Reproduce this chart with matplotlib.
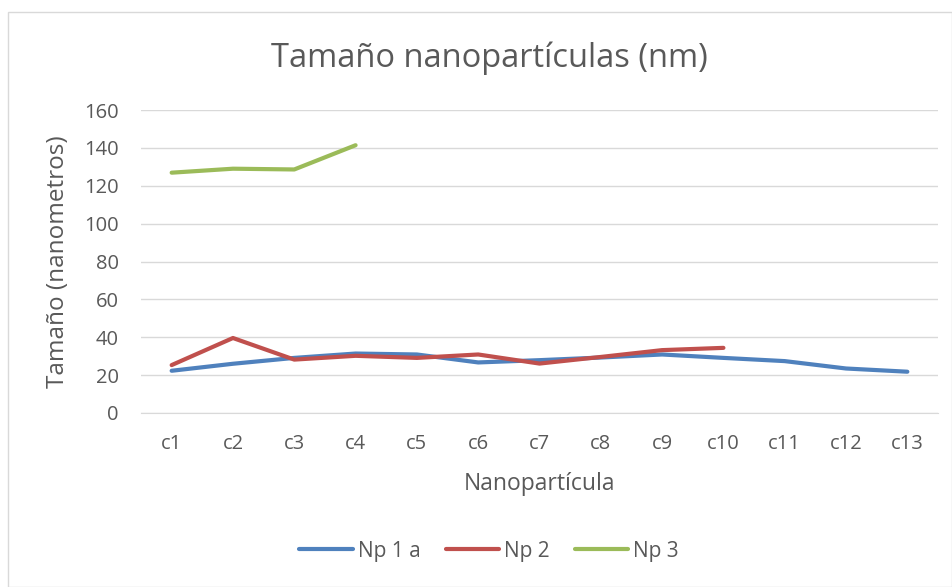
import matplotlib.pyplot as plt
from matplotlib.patches import Rectangle

categories = ['c1', 'c2', 'c3', 'c4', 'c5', 'c6', 'c7', 'c8', 'c9', 'c10', 'c11', 'c12', 'c13']
np1a = [22.3, 26.0, 29.1, 31.4, 30.9, 26.7, 27.9, 29.3, 30.9, 29.1, 27.4, 23.5, 21.8]
np2 = [25.3, 39.6, 28.2, 30.2, 29.1, 30.9, 26.1, 29.6, 33.2, 34.4]
np3 = [126.9, 129.0, 128.6, 141.4]
yticks = [0, 20, 40, 60, 80, 100, 120, 140, 160]

plt.rcParams['font.family'] = ['Open Sans', 'DejaVu Sans']
text_col = '#595959'

fig = plt.figure(figsize=(9.52, 5.87), dpi=100)
ax = fig.add_axes([141 / 952, 174 / 587, 797 / 952, 303 / 587])

x = list(range(len(categories)))
ax.plot(x, np1a, color='#4f81bd', lw=3, label='Np 1 a', solid_capstyle='round')
ax.plot(x[:len(np2)], np2, color='#c0504d', lw=3, label='Np 2', solid_capstyle='round')
ax.plot(x[:len(np3)], np3, color='#9bbb59', lw=3, label='Np 3', solid_capstyle='round')

ax.set_xlim(-0.5, len(categories) - 0.5)
ax.set_ylim(0, 160)
ax.set_yticks(yticks)
ax.set_xticks(x)
ax.set_xticklabels(categories)
ax.grid(axis='y', color='#d9d9d9', lw=1)
ax.set_axisbelow(True)
for s in ['top', 'right', 'left']:
    ax.spines[s].set_visible(False)
ax.spines['bottom'].set_color('#d9d9d9')
ax.tick_params(length=0, labelsize=14.5, colors=text_col)
ax.tick_params(axis='x', pad=15)
ax.tick_params(axis='y', pad=16)

# title and axis titles placed in figure coords
fig.text(489 / 952, 1 - 58 / 587, 'Tamaño nanopartículas (nm)', fontsize=23.5,
         color=text_col, ha='center', va='center')
fig.text(539 / 952, 1 - 484 / 587, 'Nanopartícula', fontsize=16.5,
         color=text_col, ha='center', va='center')
fig.text(58 / 952, 1 - 262 / 587, 'Tamaño (nanometros)', fontsize=17.5,
         color=text_col, ha='center', va='center', rotation=90)

fig.legend(loc='center', bbox_to_anchor=(489 / 952, 1 - 551 / 587), ncol=3, frameon=False,
           fontsize=15, labelcolor=text_col, handlelength=2.55, columnspacing=1.2, handletextpad=0.25)

fig.patches.append(Rectangle((8 / 952, 0), 944 / 952, 1 - 12 / 587, transform=fig.transFigure,
                             fill=False, edgecolor='#d9d9d9', lw=1))

fig.savefig('out.png', dpi=100)
